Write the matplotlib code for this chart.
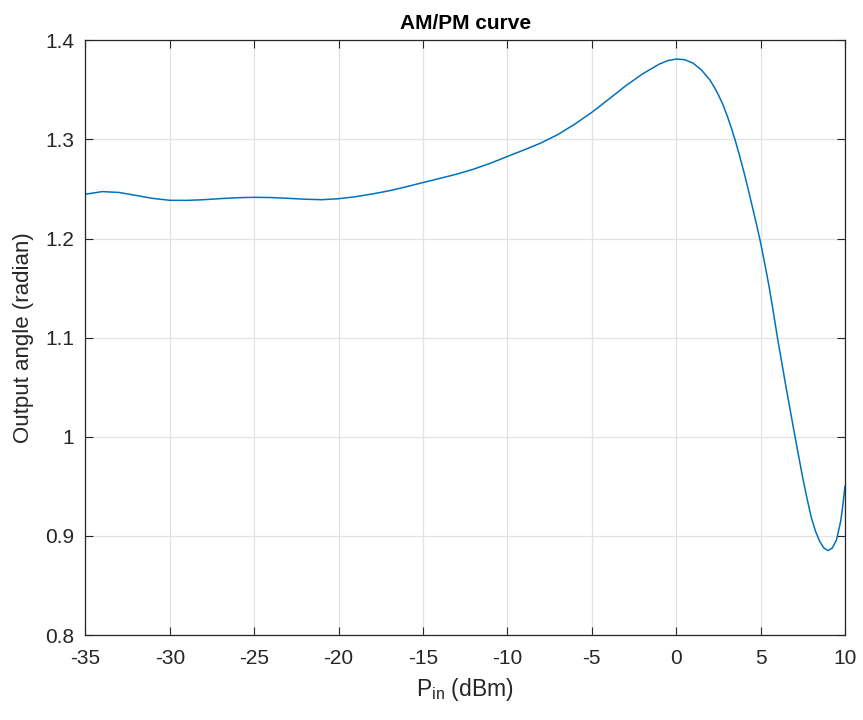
import numpy as np
import matplotlib
matplotlib.use("Agg")
import matplotlib.pyplot as plt

# values
pin_dbm = [-35, -34, -33, -32, -31, -30, -29, -28, -27, -26, -25, -24, -23, -22,
           -21, -20, -19, -18, -17, -16, -15, -14, -13, -12, -11, -10, -9, -8,
           -7, -6, -5, -4, -3, -2, -1, -0.5, 0, 0.5, 1, 1.5, 2, 2.25, 2.5, 2.75,
           3, 3.25, 3.5, 3.75, 4, 4.25, 4.5, 4.75, 5, 5.25, 5.5, 5.75, 6, 6.25,
           6.5, 6.75, 7, 7.25, 7.5, 7.75, 8, 8.25, 8.5, 8.75, 9, 9.25, 9.5,
           9.75, 9.875, 10]
angle_rad = [1.2447, 1.2474, 1.2465, 1.2435, 1.2405, 1.2386, 1.2385, 1.2392,
             1.2403, 1.2412, 1.2416, 1.2414, 1.2406, 1.2397, 1.2392, 1.2402,
             1.2422, 1.2450, 1.2482, 1.2522, 1.2565, 1.2607, 1.2650, 1.2700,
             1.2760, 1.2828, 1.2895, 1.2965, 1.3050, 1.3155, 1.3273, 1.3405,
             1.3540, 1.3660, 1.3760, 1.3795, 1.3811, 1.3805, 1.3770, 1.3700,
             1.3600, 1.3530, 1.3450, 1.3360, 1.3250, 1.3125, 1.2990, 1.2840,
             1.2680, 1.2510, 1.2330, 1.2150, 1.1960, 1.1745, 1.1520, 1.1265,
             1.1000, 1.0755, 1.0510, 1.0275, 1.0040, 0.9810, 0.9585, 0.9380,
             0.9190, 0.9050, 0.8945, 0.8878, 0.8852, 0.8878, 0.8960, 0.9150,
             0.9310, 0.9500]

x_ticks = [-35, -30, -25, -20, -15, -10, -5, 0, 5, 10]
x_labels = ["-35", "-30", "-25", "-20", "-15", "-10", "-5", "0", "5", "10"]
y_ticks = [0.8, 0.9, 1.0, 1.1, 1.2, 1.3, 1.4]
y_labels = ["0.8", "0.9", "1", "1.1", "1.2", "1.3", "1.4"]

plt.rcParams["font.family"] = ["Liberation Sans", "DejaVu Sans"]
AX_COL = "#262626"

fig = plt.figure(figsize=(8.63, 7.2), dpi=100)
ax = fig.add_axes([0.0989, 0.118, 0.8802, 0.826])

ax.plot(pin_dbm, angle_rad, color="#0072BD", lw=1.1)

ax.set_xlim(-35, 10); ax.set_ylim(0.8, 1.4)
ax.set_xticks(x_ticks); ax.set_xticklabels(x_labels)
ax.set_yticks(y_ticks); ax.set_yticklabels(y_labels)
ax.grid(True, color="#e3e3e3", lw=0.9)
ax.set_axisbelow(True)
ax.tick_params(direction="in", length=6, width=0.8, color=AX_COL,
               labelcolor=AX_COL, labelsize=15, top=True, right=True)
ax.tick_params(axis="x", pad=10)
ax.tick_params(axis="y", pad=8)
for s in ax.spines.values():
    s.set_color(AX_COL); s.set_linewidth(0.9)

ax.set_xlabel(r"P$_{\mathregular{in}}$ (dBm)", fontsize=16.5, color=AX_COL, labelpad=6)
ax.set_ylabel("Output angle (radian)", fontsize=16, color=AX_COL, labelpad=8)
ax.set_title("AM/PM curve", fontsize=15, fontweight="bold", color="black", pad=8)

fig.savefig("out.png", dpi=100)
